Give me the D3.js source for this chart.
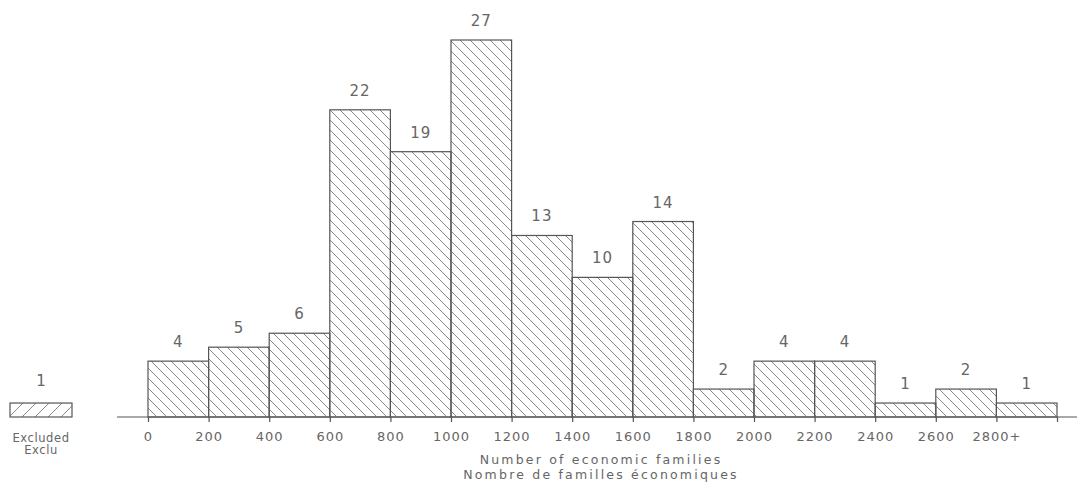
<!DOCTYPE html>
<html><head><meta charset="utf-8">
<script src="https://cdn.jsdelivr.net/npm/d3@7"></script>
<style>body{margin:0;background:#fff}svg{display:block}text{font-family:"DejaVu Sans",sans-serif;fill:#666}</style>
</head><body>
<svg id="c" width="1077" height="487"></svg>
<script>
const binStarts = [0,200,400,600,800,1000,1200,1400,1600,1800,2000,2200,2400,2600,2800];
const counts = [4,5,6,22,19,27,13,10,14,2,4,4,1,2,1];
const tickValues = [0,200,400,600,800,1000,1200,1400,1600,1800,2000,2200,2400,2600,2800];
const tickLabels = ["0","200","400","600","800","1000","1200","1400","1600","1800","2000","2200","2400","2600","2800+"];
const excludedCount = 1;
const excludedLabel = ["Excluded","Exclu"];
const titleLines = ["Number of economic families","Nombre de familles économiques"];

const svg = d3.select("#c");
const x = d3.scaleLinear().domain([0,3000]).range([148,1057]);
const y = d3.scaleLinear().domain([0,27]).range([417,40]);
const ink = "#555", hatch = "#8a8a8a";

const defs = svg.append("defs");
const s = 10;
const p1 = defs.append("pattern").attr("id","hb").attr("patternUnits","userSpaceOnUse").attr("width",s).attr("height",s);
p1.append("path").attr("d",`M-1,-1 L${s+1},${s+1} M-3,${s-3} L3,${s+3} M${s-3},-3 L${s+3},3`).attr("stroke",hatch).attr("stroke-width",1).attr("fill","none");
const p2 = defs.append("pattern").attr("id","hf").attr("patternUnits","userSpaceOnUse").attr("width",13).attr("height",13).attr("patternTransform","translate(10,0)");
p2.append("path").attr("d","M0,13 L13,0 M-6.5,6.5 L6.5,-6.5 M6.5,19.5 L19.5,6.5").attr("stroke",hatch).attr("stroke-width",1).attr("fill","none");

// baseline
svg.append("line").attr("x1",117).attr("x2",1077).attr("y1",y(0)).attr("y2",y(0)).attr("stroke",ink).attr("stroke-width",1.2);

// bars
svg.selectAll("rect.bar").data(counts).join("rect").attr("class","bar")
  .attr("x",(d,i)=>x(binStarts[i])).attr("width",(d,i)=>x(binStarts[i]+200)-x(binStarts[i]))
  .attr("y",d=>y(d)).attr("height",d=>y(0)-y(d))
  .attr("fill","url(#hb)").attr("stroke",ink).attr("stroke-width",1.2);

svg.selectAll("text.val").data(counts).join("text").attr("class","val")
  .attr("x",(d,i)=>x(binStarts[i]+100)).attr("y",d=>y(d)-14)
  .attr("text-anchor","middle").style("font-size","15px").style("letter-spacing","1px").text(d=>d);

// axis
const axis = d3.axisBottom(x).tickValues(tickValues.concat([3000])).tickSize(5)
  .tickFormat((d,i)=> i<tickLabels.length ? tickLabels[i] : "");
const ag = svg.append("g").attr("transform",`translate(0,${y(0)})`).call(axis);
ag.select(".domain").remove();
ag.selectAll(".tick line").attr("stroke",ink).attr("stroke-width",1.2);
ag.selectAll(".tick text").attr("y",15).attr("dy","0.71em").style("font-size","13px").style("letter-spacing","1px").attr("fill","#666").style("font-family","DejaVu Sans");

// excluded
const ex = d3.scaleLinear().domain([0,1]).range([10,72]);
svg.append("rect").attr("x",ex(0)).attr("width",ex(1)-ex(0)).attr("y",y(excludedCount)).attr("height",y(0)-y(excludedCount))
  .attr("fill","url(#hf)").attr("stroke",ink).attr("stroke-width",1.2);
svg.append("text").attr("x",ex(0.5)).attr("y",y(excludedCount)-17).attr("text-anchor","middle").style("font-size","15px").text(excludedCount);
svg.selectAll("text.exl").data(excludedLabel).join("text").attr("class","exl")
  .attr("x",ex(0.5)).attr("y",(d,i)=>442+i*12).attr("text-anchor","middle").style("font-size","11.5px").style("letter-spacing","0.6px").text(d=>d);

svg.selectAll("text.title").data(titleLines).join("text").attr("class","title")
  .attr("x",601).attr("y",(d,i)=>463.5+i*15).attr("text-anchor","middle").style("font-size","12.5px").style("letter-spacing","2.2px").text(d=>d);
</script>
</body></html>
